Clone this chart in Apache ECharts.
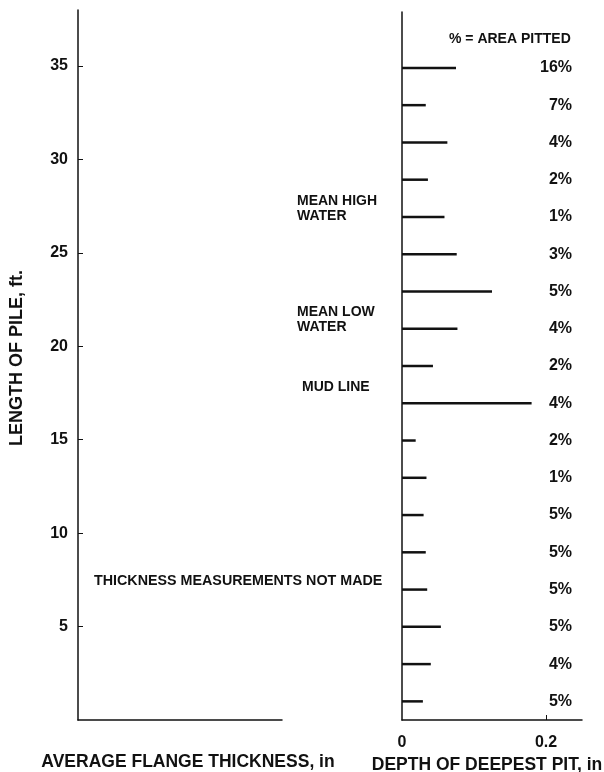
<!DOCTYPE html>
<html>
<head>
<meta charset="utf-8">
<script src="https://cdn.jsdelivr.net/npm/echarts@6/dist/echarts.min.js"></script>
<style>
html,body{margin:0;padding:0;background:#fff;}
#main{width:604px;height:772px;}
</style>
</head>
<body>
<div id="main"></div>
<script>
// Pile length positions (ft) of each pit measurement
var pileLength = [35, 33, 31, 29, 27, 25, 23, 21, 19, 17, 15, 13, 11, 9, 7, 5, 3, 1];
// Depth of deepest pit (in)
var pitDepth = [0.075, 0.033, 0.063, 0.036, 0.059, 0.076, 0.125, 0.077, 0.043, 0.180, 0.019, 0.034, 0.030, 0.033, 0.035, 0.054, 0.040, 0.029];
// Percent area pitted
var areaPitted = ['16%', '7%', '4%', '2%', '1%', '3%', '5%', '4%', '2%', '4%', '2%', '1%', '5%', '5%', '5%', '5%', '4%', '5%'];
// Axis tick values
var yTicks = [5, 10, 15, 20, 25, 30, 35];
var xTickLabels = [0, 0.2];
var xTickMarks = [0.2];

var FONT = '"Liberation Sans", Arial, sans-serif';
var chart = echarts.init(document.getElementById('main'));

var barData = pileLength.map(function (y, i) { return [pitDepth[i], y]; });
var labelData = pileLength.map(function (y, i) { return [0.25, y, areaPitted[i]]; });

var option = {
  backgroundColor: '#fff',
  animation: false,
  grid: [
    { left: 78, right: 322, top: 10, bottom: 52, containLabel: false, outerBoundsMode: 'none' },
    { left: 402, right: 22, top: 12, bottom: 52, containLabel: false, outerBoundsMode: 'none' }
  ],
  xAxis: [
    {
      gridIndex: 0, type: 'value', min: 0, max: 1,
      axisLine: { show: true, onZero: false, lineStyle: { color: '#111', width: 1.5 } },
      axisTick: { show: false }, axisLabel: { show: false }, splitLine: { show: false },
      name: 'AVERAGE FLANGE THICKNESS, in', nameLocation: 'middle', nameGap: 33,
      nameTextStyle: { fontFamily: FONT, fontWeight: 'bold', fontSize: 17.5, color: '#111', padding: [0, 0, 0, 16] }
    },
    {
      gridIndex: 1, type: 'value', min: 0, max: 0.25, interval: 0.05,
      axisLine: { show: true, onZero: false, lineStyle: { color: '#111', width: 1.5 } },
      axisTick: { show: true, inside: true, length: 5, customValues: xTickMarks, lineStyle: { color: '#111' } },
      axisLabel: {
        fontFamily: FONT, fontWeight: 'bold', fontSize: 16, color: '#111', margin: 15,
        customValues: xTickLabels,
        formatter: function (v) { return Math.abs(v) < 1e-9 ? '0' : String(Math.round(v * 10) / 10); }
      },
      splitLine: { show: false },
      name: 'DEPTH OF DEEPEST PIT, in', nameLocation: 'middle', nameGap: 31,
      nameTextStyle: { fontFamily: FONT, fontWeight: 'bold', fontSize: 17.5, color: '#111', padding: [0, 0, 0, -10] }
    }
  ],
  yAxis: [
    {
      gridIndex: 0, type: 'value', min: 0, max: 38, interval: 5,
      axisLine: { show: true, onZero: false, lineStyle: { color: '#111', width: 1.5 } },
      axisTick: { show: true, inside: true, length: 5, customValues: yTicks, lineStyle: { color: '#111' } },
      axisLabel: {
        fontFamily: FONT, fontWeight: 'bold', fontSize: 16, color: '#111', margin: 10,
        customValues: yTicks
      },
      splitLine: { show: false },
      name: 'LENGTH OF PILE, ft.', nameLocation: 'middle', nameGap: 52,
      nameTextStyle: { fontFamily: FONT, fontWeight: 'bold', fontSize: 18, color: '#111', padding: [0, 0, 0, 14] }
    },
    {
      gridIndex: 1, type: 'value', min: 0, max: 38,
      axisLine: { show: true, onZero: false, lineStyle: { color: '#111', width: 1.5 } },
      axisTick: { show: false }, axisLabel: { show: false }, splitLine: { show: false }
    }
  ],
  series: [
    {
      type: 'custom', xAxisIndex: 1, yAxisIndex: 1, data: barData,
      renderItem: function (params, api) {
        var p0 = api.coord([0, api.value(1)]);
        var p1 = api.coord([api.value(0), api.value(1)]);
        return {
          type: 'line',
          shape: { x1: p0[0], y1: p0[1], x2: p1[0], y2: p1[1] },
          style: { stroke: '#111', lineWidth: 2.5 }
        };
      }
    },
    {
      type: 'scatter', xAxisIndex: 1, yAxisIndex: 1, data: labelData,
      symbolSize: 0, silent: true,
      itemStyle: { opacity: 1, color: '#111' },
      label: {
        show: true, position: 'left', distance: 10,
        formatter: function (p) { return p.data[2]; },
        fontFamily: FONT, fontWeight: 'bold', fontSize: 16, color: '#111'
      }
    }
  ],
  graphic: [
    { type: 'text', left: 449, top: 32, style: { text: '% = AREA PITTED', font: 'bold 14px ' + FONT, fill: '#111' } },
    { type: 'text', left: 297, top: 194, style: { text: 'MEAN HIGH\nWATER', font: 'bold 14px ' + FONT, fill: '#111', lineHeight: 15 } },
    { type: 'text', left: 297, top: 305, style: { text: 'MEAN LOW\nWATER', font: 'bold 14px ' + FONT, fill: '#111', lineHeight: 15 } },
    { type: 'text', left: 302, top: 380, style: { text: 'MUD LINE', font: 'bold 14px ' + FONT, fill: '#111' } },
    { type: 'text', left: 94, top: 574, style: { text: 'THICKNESS MEASUREMENTS NOT MADE', font: 'bold 14.3px ' + FONT, fill: '#111' } }
  ]
};
chart.setOption(option);
</script>
</body>
</html>
